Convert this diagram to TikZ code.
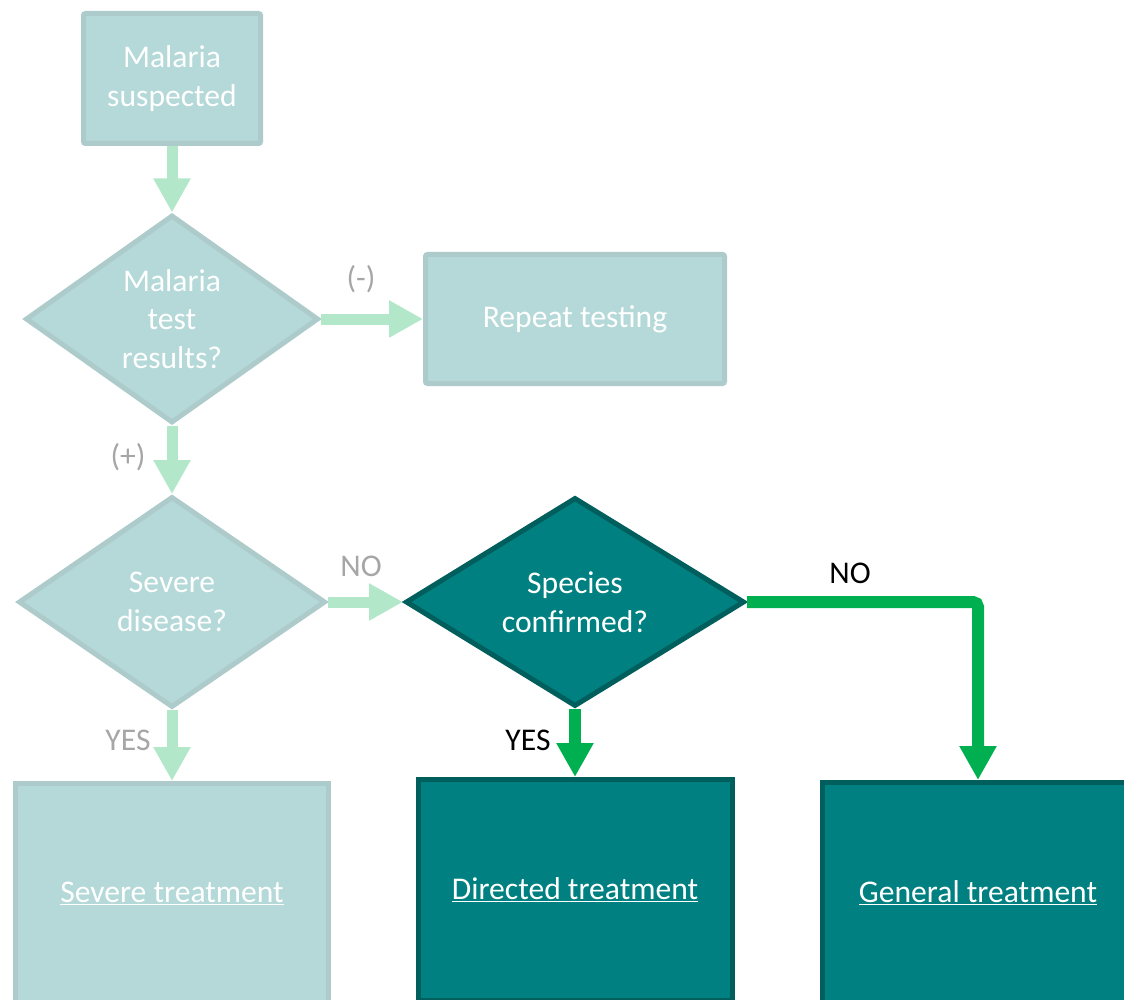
\documentclass[tikz,border=0pt]{standalone}
\usepackage{fontspec}
\setmainfont{Carlito}
\usetikzlibrary{shapes.geometric,arrows.meta}
\definecolor{palefill}{HTML}{B4D9D8}
\definecolor{paleline}{HTML}{AECBCB}
\definecolor{darkfill}{HTML}{008080}
\definecolor{darkline}{HTML}{005E5C}
\definecolor{palegreen}{HTML}{B2E7C9}
\definecolor{brightgreen}{HTML}{00B050}
\definecolor{labelgray}{HTML}{A6A6A6}

\begin{document}
\begin{tikzpicture}[x=1pt,y=-1pt,
  every node/.style={font=\fontsize{31.6}{38.5}\selectfont},
  palebox/.style={draw=paleline,fill=palefill,line width=5pt,text=white,align=center},
  darkbox/.style={draw=darkline,fill=darkfill,line width=5pt,text=white,align=center},
  palediam/.style={palebox,diamond,aspect=1.4,inner sep=0pt},
  darkdiam/.style={darkbox,diamond,aspect=1.4,inner sep=0pt},
  faint/.style={text=labelgray},
  palearrow/.style={draw=palegreen,line width=11pt,-{Triangle[width=35pt,length=34pt]}},
  greenarrow/.style={draw=brightgreen,line width=12pt,-{Triangle[width=35pt,length=34pt]}}]
\useasboundingbox (0,0) rectangle (1124,1000);
\clip (0,0) rectangle (1124,1000);

\node[palebox,rounded corners=2pt,minimum width=177pt,minimum height=130pt] (suspect) at (172,78.5) {Malaria\\suspected};
\node[palediam,minimum width=293pt,minimum height=208pt] (test) at (172,319) {Malaria\\test\\results?};
\node[palebox,rounded corners=2pt,minimum width=299pt,minimum height=129pt] (repeat) at (575,319) {Repeat testing};
\node[palediam,minimum width=307pt,minimum height=211pt] (severe) at (172,602) {Severe\\disease?};
\node[darkdiam,minimum width=339pt,minimum height=209pt] (species) at (575,602) {Species\\confirmed?};
\node[palebox,minimum width=313pt,minimum height=219pt] (sevtreat) at (172,893) {\underline{Severe treatment}};
\node[darkbox,minimum width=314pt,minimum height=221pt] (directed) at (575,890) {\underline{Directed treatment}};
\node[darkbox,minimum width=311pt,minimum height=221pt] (general) at (978,893) {\underline{General treatment}};

\node[faint] (minus) at (361,279) {(-)};
\node[faint] (plus) at (128,457) {(+)};
\node[faint] (nopale) at (361,566) {NO};
\node[faint] (yespale) at (128,740) {YES};
\node (nodark) at (850,573) {NO};
\node (yesdark) at (528,740) {YES};

\draw[palearrow] (suspect.south) -- (test.north);
\draw[palearrow] (test.east) -- (repeat.west);
\draw[palearrow] (test.south) -- (severe.north);
\draw[palearrow] (severe.east) -- (species.west);
\draw[palearrow] (severe.south) -- (sevtreat.north);
\draw[greenarrow] (species.south) -- (directed.north);
\draw[greenarrow,rounded corners=5pt] (species.east) -| (general.north);
\end{tikzpicture}
\end{document}
